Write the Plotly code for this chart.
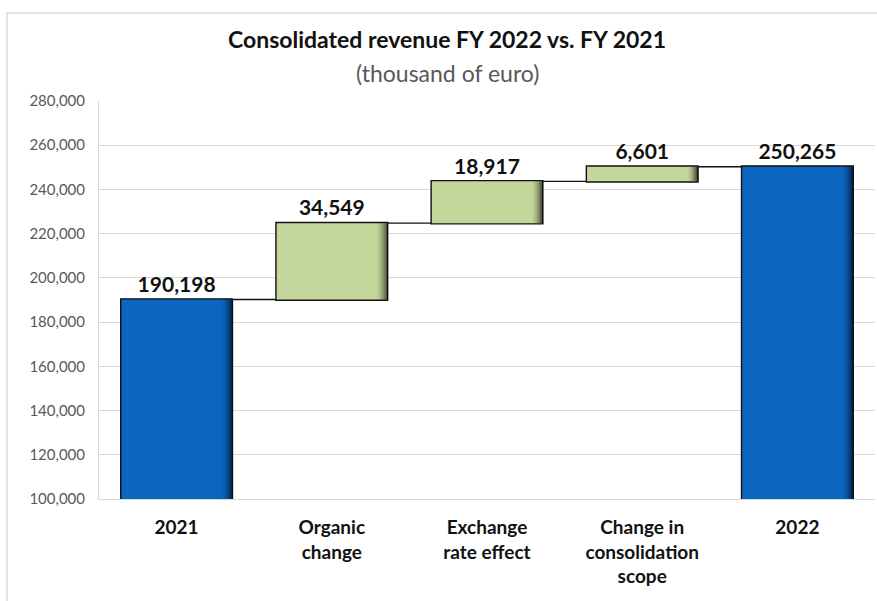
import plotly.graph_objects as go

# Revenue bridge, thousand of euro
categories = ["2021", "Organic<br>change", "Exchange<br>rate effect",
              "Change in<br>consolidation<br>scope", "2022"]
values = [190198, 34549, 18917, 6601, 250265]
measures = ["absolute", "relative", "relative", "relative", "total"]
y_ticks = list(range(100000, 280001, 20000))

W, H = 877, 601
ML, MR, MT, MB = 99, 2, 101, 102
Y_MIN, Y_MAX = 100000, 280000
BAR_W = 0.72

FONT = "Lato"
BLUE = "#0B66C2"
GREEN = "#C4D79B"

labels = [f"<b>{v:,}</b>" for v in values]

fig = go.Figure(go.Waterfall(
    x=categories,
    y=values,
    measure=measures,
    width=BAR_W,
    text=labels,
    texttemplate="%{text}",
    textposition="outside",
    cliponaxis=False,
    textfont=dict(family=FONT, size=21, color="#111111"),
    increasing=dict(marker=dict(color=GREEN, line=dict(color="#111111", width=1.4))),
    decreasing=dict(marker=dict(color=GREEN, line=dict(color="#111111", width=1.4))),
    totals=dict(marker=dict(color=BLUE, line=dict(color="#111111", width=1.4))),
    connector=dict(mode="between", line=dict(color="#111111", width=1.4)),
    hoverinfo="skip",
))

# Darkened right edge on each bar (bevel-like shading)
px_per_cat = (W - ML - MR) / len(categories)
running = 0
shapes = []
for i, (v, m) in enumerate(zip(values, measures)):
    if m == "absolute":
        lo, hi = 0, v
        running = v
    elif m == "total":
        lo, hi = 0, running
    else:
        lo, hi = running, running + v
        running += v
    lo = max(lo, Y_MIN)
    right = i + BAR_W / 2
    n = 12
    for k in range(n):
        x1 = right - k / px_per_cat
        x0 = x1 - 1 / px_per_cat
        op = 0.75 * ((n - k) / n) ** 2
        shapes.append(dict(type="rect", xref="x", yref="y",
                           x0=x0, x1=x1, y0=lo, y1=hi,
                           fillcolor="black", opacity=op,
                           line=dict(width=0), layer="above"))

# Outer chart frame
fx0 = (7 - ML) / (W - ML - MR)
fy1 = 1 + (MT - 13) / (H - MT - MB)
shapes.append(dict(type="rect", xref="paper", yref="paper",
                   x0=fx0, x1=1.2, y0=-0.5, y1=fy1,
                   line=dict(color="#D9D9D9", width=1.5),
                   fillcolor="rgba(0,0,0,0)", layer="below"))

fig.update_layout(
    width=W, height=H,
    margin=dict(l=ML, r=MR, t=MT, b=MB),
    paper_bgcolor="white",
    plot_bgcolor="white",
    showlegend=False,
    shapes=shapes,
    annotations=[
        dict(text="<b>Consolidated revenue FY 2022 vs. FY 2021</b>",
             xref="paper", yref="paper",
             x=(447 - ML) / (W - ML - MR), y=1 + (MT - 39) / (H - MT - MB),
             xanchor="center", yanchor="middle", showarrow=False,
             font=dict(family=FONT, size=23, color="#111111")),
        dict(text="(thousand of euro)",
             xref="paper", yref="paper",
             x=(447 - ML) / (W - ML - MR), y=1 + (MT - 73) / (H - MT - MB),
             xanchor="center", yanchor="middle", showarrow=False,
             font=dict(family=FONT, size=23, color="#595959")),
    ],
    xaxis=dict(
        showgrid=False, showline=True, linecolor="#D9D9D9", linewidth=1,
        ticks="", ticklabelstandoff=11,
        tickfont=dict(family=FONT, size=19, color="#111111"),
        tickprefix="<b>", ticksuffix="</b>",
        range=[-0.5, len(categories) - 0.5],
    ),
    yaxis=dict(
        range=[Y_MIN, Y_MAX], tickvals=y_ticks,
        ticktext=[f"{t:,}" for t in y_ticks],
        showgrid=True, gridcolor="#D9D9D9", gridwidth=1,
        showline=True, linecolor="#D9D9D9", linewidth=1,
        ticks="", ticklabelstandoff=10,
        tickfont=dict(family=FONT, size=15, color="#595959"),
        zeroline=False,
    ),
)

fig.write_html("out.html")
